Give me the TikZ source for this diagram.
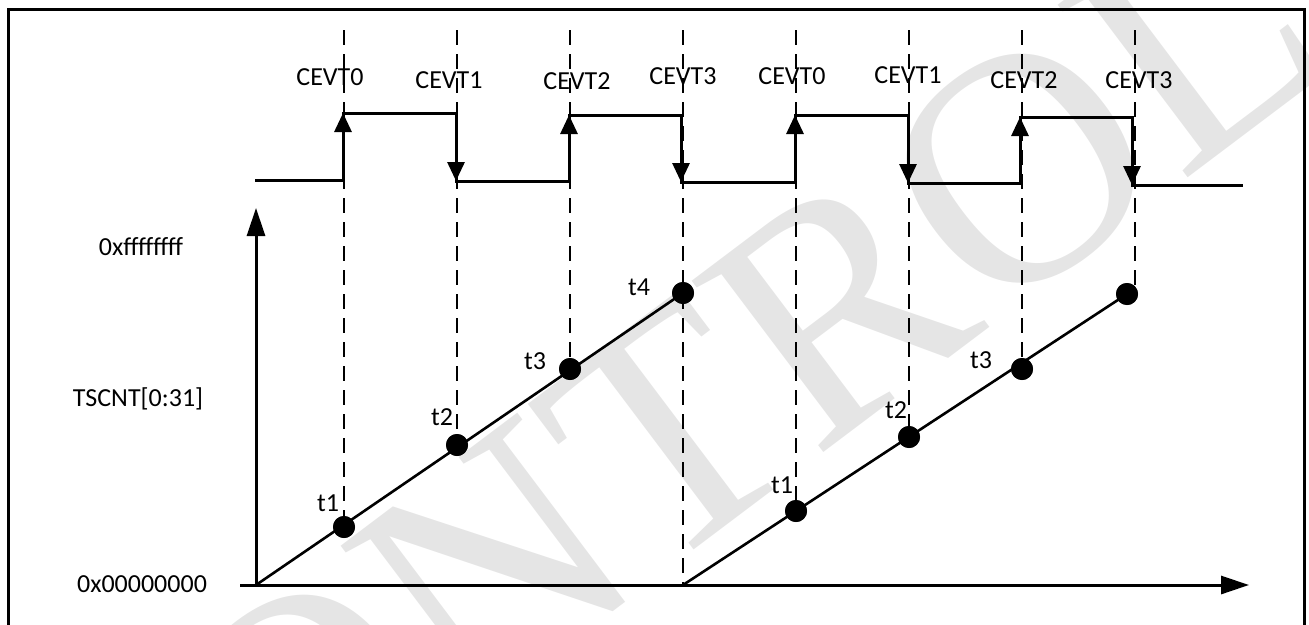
\documentclass[tikz,border=0pt]{standalone}
\usepackage{fontspec}
\setmainfont{Carlito}
\newfontfamily\wmfont{Liberation Serif}
\usetikzlibrary{arrows.meta}
\begin{document}
\begin{tikzpicture}[x=1pt,y=-1pt,
  lbl/.style={font=\fontsize{26}{30}\selectfont, inner sep=0pt},
  wm/.style={font=\wmfont\fontsize{330}{330}\selectfont, text=black!10, rotate=37, inner sep=0pt},
  dashline/.style={line width=2.2pt, dash pattern=on 15pt off 9pt},
  wave/.style={line width=3pt, line join=miter},
  edgearrow/.style={line width=3pt, -{Triangle[length=19pt,width=17pt]}},
  axisline/.style={line width=3pt, -{Triangle[length=28pt,width=18pt]}},
  ramp/.style={line width=2.6pt},
  dot/.style={circle, fill=black, minimum size=22pt, inner sep=0pt},
]
\useasboundingbox (0,0) rectangle (1309,624);
\clip (0,0) rectangle (1309,624);

% watermark
\node[wm] (mark) at (655,445) {CONTROL};

% frame
\draw[line width=3pt] (8,9) rectangle (1304,660);

% capture instants on the counter ramps
\node[dot] (t1a) at (344,527) {};
\node[dot] (t2a) at (457,445) {};
\node[dot] (t3a) at (570,369) {};
\node[dot] (t4a) at (683,293) {};
\node[dot] (t1b) at (796,511) {};
\node[dot] (t2b) at (909,437) {};
\node[dot] (t3b) at (1022,369) {};
\node[dot] (t4b) at (1127,294) {};

% axes origin and rollover point
\coordinate (o1) at (256,585);
\coordinate (o2) at (683,585);
\coordinate (xs) at (240,585);
\coordinate (xe) at (1249,585);
\coordinate (ye) at (256,208);

% tops of the event markers
\foreach \i/\x in {1/344,2/457,3/570,4/683,5/796,6/909,7/1022,8/1135}
  \coordinate (v\i) at (\x,30);
\coordinate (e8) at (1135,292);

% event markers
\draw[dashline] (v1) -- (t1a.center);
\draw[dashline] (v2) -- (t2a.center);
\draw[dashline] (v3) -- (t3a.center);
\draw[dashline] (v4) -- (o2);
\draw[dashline] (v5) -- (t1b.center);
\draw[dashline] (v6) -- (t2b.center);
\draw[dashline] (v7) -- (t3b.center);
\draw[dashline] (v8) -- (e8);

% input signal
\draw[wave] (255,180) -- (343,180) -- (343,113) -- (456,113) -- (456,181)
  -- (569,181) -- (569,115) -- (681,115) -- (681,182) -- (795,182)
  -- (795,115) -- (908,115) -- (908,183) -- (1020,183) -- (1020,117)
  -- (1132,117) -- (1132,185) -- (1243,185);
\draw[edgearrow] (343,180) -- (343,113);
\draw[edgearrow] (456,113) -- (456,181);
\draw[edgearrow] (569,181) -- (569,115);
\draw[edgearrow] (681,115) -- (681,182);
\draw[edgearrow] (795,182) -- (795,115);
\draw[edgearrow] (908,115) -- (908,183);
\draw[edgearrow] (1020,183) -- (1020,117);
\draw[edgearrow] (1132,117) -- (1132,185);

% counter ramps
\draw[ramp] (o1) -- (t4a.center);
\draw[ramp] (o2) -- (t4b.center);

% axes
\draw[axisline] (xs) -- (xe);
\draw[axisline] (o1) -- (ye);

% redraw dots over the lines
\foreach \d in {t1a,t2a,t3a,t4a,t1b,t2b,t3b,t4b}
  \fill (\d) circle (11pt);

% event labels
\node[lbl] (c0a) at (330,77) {CEVT0};
\node[lbl] (c1a) at (449,80) {CEVT1};
\node[lbl] (c2a) at (577,81) {CEVT2};
\node[lbl] (c3a) at (683,76) {CEVT3};
\node[lbl] (c0b) at (792,76) {CEVT0};
\node[lbl] (c1b) at (908,75) {CEVT1};
\node[lbl] (c2b) at (1024,80) {CEVT2};
\node[lbl] (c3b) at (1139,80) {CEVT3};

% axis labels
\node[lbl] (ymax) at (141,247) {0xffffffff};
\node[lbl] (yname) at (138,399) {TSCNT[0:31]};
\node[lbl] (ymin) at (142,584) {0x00000000};

% time-stamp labels
\node[lbl] (l1a) at (328,503) {t1};
\node[lbl] (l2a) at (442,417) {t2};
\node[lbl] (l3a) at (535,361) {t3};
\node[lbl] (l4a) at (639,287) {t4};
\node[lbl] (l1b) at (782,485) {t1};
\node[lbl] (l2b) at (896,410) {t2};
\node[lbl] (l3b) at (981,360) {t3};
\end{tikzpicture}
\end{document}
